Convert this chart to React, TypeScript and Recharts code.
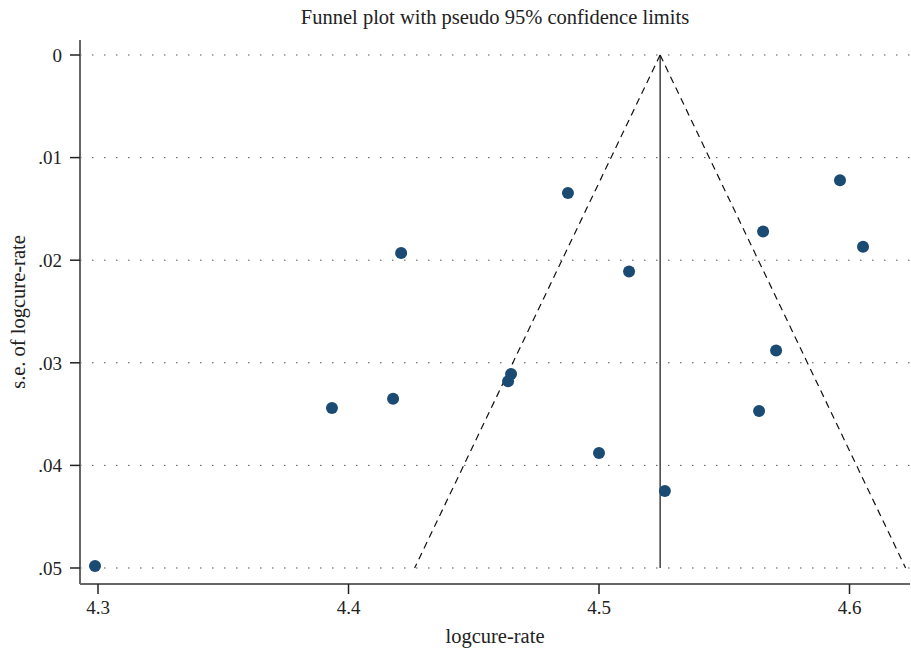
import React from 'react';
import { ScatterChart, Scatter, XAxis, YAxis, CartesianGrid, ReferenceLine } from 'recharts';

const logRate = [4.2988, 4.3934, 4.4178, 4.4210, 4.4637, 4.4649, 4.4876, 4.5000, 4.5120, 4.5263, 4.5639, 4.5655, 4.5707, 4.5962, 4.6054];
const seRate = [0.0498, 0.0344, 0.0335, 0.0193, 0.0318, 0.0311, 0.01345, 0.0388, 0.0211, 0.0425, 0.0347, 0.0172, 0.0288, 0.0122, 0.0187];
const xTicks = [4.3, 4.4, 4.5, 4.6];
const yTicks = [0, 0.01, 0.02, 0.03, 0.04, 0.05];
const pooled = 4.5244;
const seMax = 0.05;
const z = 1.96;

const data = logRate.map((x, i) => ({ x, y: seRate[i] }));

const font = '"Liberation Serif", "DejaVu Serif", serif';

const fmtY = (v: number) => (v === 0 ? '0' : String(Number(v.toFixed(2))).replace(/^0/, ''));

export default function App() {
  return (
    <div style={{ position: 'absolute', left: 0, top: 0, width: 911, height: 650, background: '#fff', fontFamily: font }}>
      <div style={{ position: 'absolute', left: 80, width: 830, top: 4, textAlign: 'center', fontSize: 20.5, lineHeight: '26px', color: '#222' }}>
        Funnel plot with pseudo 95% confidence limits
      </div>
      <ScatterChart width={911} height={650} margin={{ top: 40, right: 1, bottom: 10, left: 10 }}>
        <CartesianGrid vertical={false} horizontalValues={yTicks} stroke="#555" strokeDasharray="1.5 10.5" />
        <XAxis
          type="number"
          dataKey="x"
          domain={[4.29281, 4.62415]}
          allowDataOverflow
          ticks={xTicks}
          tickFormatter={(v: number) => v.toFixed(1)}
          height={56}
          tickSize={10}
          tickMargin={7}
          axisLine={{ stroke: '#666', strokeWidth: 2 }}
          tickLine={{ stroke: '#222', strokeWidth: 1.5 }}
          tick={{ fill: '#222', fontSize: 19, fontFamily: font }}
          label={{ value: 'logcure-rate', position: 'insideBottom', offset: -3, fill: '#222', fontSize: 20.5, fontFamily: font }}
        />
        <YAxis
          type="number"
          dataKey="y"
          reversed
          domain={[-0.001462, 0.05156]}
          allowDataOverflow
          ticks={yTicks}
          tickFormatter={fmtY}
          width={70}
          tickSize={10}
          tickMargin={8}
          axisLine={{ stroke: '#666', strokeWidth: 2 }}
          tickLine={{ stroke: '#222', strokeWidth: 1.5 }}
          tick={{ fill: '#222', fontSize: 19, fontFamily: font }}
          label={{ value: 's.e. of logcure-rate', angle: -90, position: 'insideLeft', offset: 8, fill: '#222', fontSize: 20.5, fontFamily: font, style: { textAnchor: 'middle' } }}
        />
        <ReferenceLine segment={[{ x: pooled, y: 0 }, { x: pooled, y: seMax }]} stroke="#111" strokeWidth={1.2} ifOverflow="visible" />
        <ReferenceLine segment={[{ x: pooled, y: 0 }, { x: pooled - z * seMax, y: seMax }]} stroke="#111" strokeWidth={1.2} strokeDasharray="7 5" ifOverflow="visible" />
        <ReferenceLine segment={[{ x: pooled, y: 0 }, { x: pooled + z * seMax, y: seMax }]} stroke="#111" strokeWidth={1.2} strokeDasharray="7 5" ifOverflow="visible" />
        <Scatter
          data={data}
          fill="#1b4a73"
          isAnimationActive={false}
          shape={(p: any) => <circle cx={p.cx} cy={p.cy} r={6} fill="#1b4a73" />}
        />
      </ScatterChart>
    </div>
  );
}
